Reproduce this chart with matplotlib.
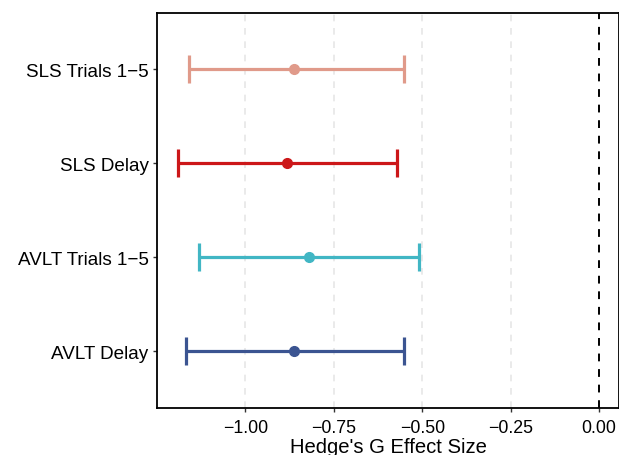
import numpy as np
import matplotlib.pyplot as plt

plt.rcParams['font.family'] = ['Liberation Sans', 'DejaVu Sans']

labels = ["AVLT Delay", "AVLT Trials 1\u22125", "SLS Delay", "SLS Trials 1\u22125"]
effect = [-0.862, -0.820, -0.881, -0.862]
lower = [-1.169, -1.130, -1.190, -1.160]
upper = [-0.551, -0.510, -0.571, -0.551]
colors = ["#3B5491", "#41B6C4", "#CC1719", "#E09A8A"]

fig = plt.figure(figsize=(6.19, 4.56), dpi=100)
ax = fig.add_axes([0.2536, 0.1037, 0.7464, 0.8656])

ypos = np.arange(1, len(labels) + 1)
for y, m, lo, hi, c in zip(ypos, effect, lower, upper, colors):
    ax.errorbar(m, y, xerr=[[m - lo], [hi - m]], fmt="o", color=c,
                ecolor=c, elinewidth=2.3, capsize=10, capthick=2.3,
                markersize=7, zorder=3)

ax.axvline(0, color="black", linestyle=(0, (4, 4)), linewidth=1.4, zorder=2)

xticks = [-1.00, -0.75, -0.50, -0.25, 0.00]
ax.set_xticks(xticks)
ax.set_xticklabels([f"{t:.2f}".replace("-", "\u2212") for t in xticks])
for t in xticks[:-1]:
    ax.axvline(t, color="#E6E6E6", linestyle=(0, (4, 4)), linewidth=1.2, zorder=1)

ax.set_yticks(ypos)
ax.set_yticklabels(labels)
ax.set_xlim(-1.25, 0.0565)
ax.set_ylim(0.4, 4.6)

ax.tick_params(axis="both", length=3, width=1, color="#333333",
               labelcolor="black")
ax.tick_params(axis="y", labelsize=13.6, pad=3)
ax.tick_params(axis="x", labelsize=12.8, pad=5)
for s in ax.spines.values():
    s.set_linewidth(1.3)
    s.set_color("black")

ax.set_xlabel("Hedge's G Effect Size", fontsize=14.6, labelpad=1)

fig.savefig("out.png", dpi=100)
